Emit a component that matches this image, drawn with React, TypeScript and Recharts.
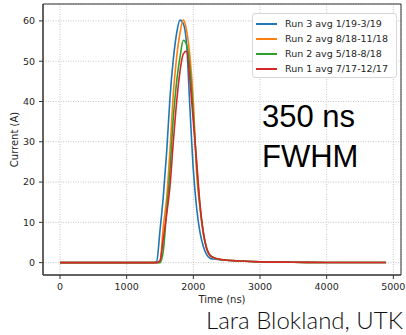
import { LineChart, Line, XAxis, YAxis, CartesianGrid, Legend, ReferenceArea } from 'recharts';

const times = [0, 1000, 1400, 1450, 1500, 1550, 1600, 1650, 1700, 1750, 1800, 1850, 1900, 1950, 2000, 2050, 2100, 2150, 2200, 2250, 2300, 2400, 2500, 2700, 3000, 3500, 4000, 4890];

const run3 = [0, 0, 0, 0.3, 8, 16.5, 27.5, 41, 50.5, 57, 60.2, 59.3, 54, 38, 23, 13.5, 7.5, 4, 2, 1.1, 0.9, 0.75, 0.6, 0.4, 0.2, 0.1, 0.05, 0.02];
const run2b = [0, 0, 0, 0, 0.3, 9, 16, 28, 42, 51, 57, 60.3, 57.5, 51, 40, 22, 13.5, 7, 3.5, 1.8, 1.2, 0.8, 0.6, 0.4, 0.2, 0.1, 0.05, 0.02];
const run2a = [0, 0, 0, 0, 0, 3, 13, 23, 36, 45, 51, 55.2, 54, 48, 37, 24, 14, 7.5, 3.5, 1.8, 1.3, 0.8, 0.6, 0.4, 0.2, 0.1, 0.05, 0.02];
const run1 = [0, 0, 0, 0, 0.5, 6, 12, 19, 30, 40, 47.5, 51.8, 52.5, 45, 35, 25, 14.5, 7.5, 3.5, 1.8, 1.3, 0.8, 0.6, 0.4, 0.2, 0.1, 0.05, 0.02];

const seriesNames = ['Run 3 avg 1/19-3/19', 'Run 2 avg 8/18-11/18', 'Run 2 avg 5/18-8/18', 'Run 1 avg 7/17-12/17'];
const seriesColors = ['#1f77b4', '#ff7f0e', '#2ca02c', '#d62728'];

const xTicks = [0, 1000, 2000, 3000, 4000, 5000];
const yTicks = [0, 10, 20, 30, 40, 50, 60];

const xDomain: [number, number] = [-255, 5115];
const yDomain: [number, number] = [-3.07, 64.2];

const data = times.map((t, i) => ({ t, run3: run3[i], run2b: run2b[i], run2a: run2a[i], run1: run1[i] }));
const keys = ['run3', 'run2b', 'run2a', 'run1'];

const tickStyle = { fontSize: 9.5, fill: '#262626', fontFamily: 'DejaVu Sans' };
const labelStyle = { fontSize: 10, fill: '#262626', fontFamily: 'DejaVu Sans' };

function LegendBox() {
  // fixed order, same as matplotlib's
  return (
    <div style={{ background: 'rgba(255,255,255,0.85)', border: '1px solid #d8d8d8', borderRadius: 3, padding: '2px 0 1px 0', width: 145, boxSizing: 'border-box' }}>
      {seriesNames.map((name, i) => (
        <div key={name} style={{ display: 'flex', alignItems: 'center', height: 15, fontFamily: 'DejaVu Sans', fontSize: 9.5, color: '#262626' }}>
          <span style={{ display: 'inline-block', width: 21, height: 2, background: seriesColors[i], marginLeft: 3, marginRight: 8 }} />
          <span>{name}</span>
        </div>
      ))}
    </div>
  );
}

export default function App() {
  return (
    <div style={{ position: 'absolute', left: 0, top: 0, width: 406, height: 335, background: '#fff' }}>
      <LineChart width={406} height={335} data={data} margin={{ top: 4, right: 5, bottom: 30, left: 0 }}>
        <CartesianGrid stroke="#c4c4c4" strokeDasharray="1 1.5" />
        <XAxis
          dataKey="t"
          type="number"
          domain={xDomain}
          ticks={xTicks}
          allowDataOverflow
          height={30}
          tick={tickStyle}
          tickSize={4}
          tickMargin={4}
          stroke="#333"
          label={{ value: 'Time (ns)', position: 'insideBottom', offset: 2, style: labelStyle }}
        />
        <YAxis
          type="number"
          domain={yDomain}
          ticks={yTicks}
          allowDataOverflow
          width={43}
          tick={tickStyle}
          tickSize={4}
          tickMargin={4}
          stroke="#333"
          label={{ value: 'Current (A)', angle: -90, position: 'insideLeft', offset: 14, style: { ...labelStyle, textAnchor: 'middle' } }}
        />
        <ReferenceArea x1={xDomain[0]} x2={xDomain[1]} y1={yDomain[0]} y2={yDomain[1]} fill="none" stroke="#333" strokeWidth={1} />
        {keys.map((k, i) => (
          <Line
            key={k}
            type="monotone"
            dataKey={k}
            name={seriesNames[i]}
            stroke={seriesColors[i]}
            strokeWidth={1.6}
            dot={false}
            isAnimationActive={false}
          />
        ))}
        <Legend
          layout="vertical"
          align="center"
          verticalAlign="middle"
          content={<LegendBox />}
          wrapperStyle={{ position: 'absolute', left: 252, top: 13, width: 145 }}
        />
      </LineChart>
      <svg width={406} height={335} style={{ position: 'absolute', left: 0, top: 0, pointerEvents: 'none' }}>
        <text x={262} y={127} fontFamily="Liberation Sans" fontSize={31} fill="#000">350 ns</text>
        <text x={262} y={167} fontFamily="Liberation Sans" fontSize={31} fill="#000">FWHM</text>
        <text x={206} y={329} fontFamily="Lato" fontWeight={300} fontSize={23} textLength={197} lengthAdjust="spacingAndGlyphs" fill="#111">Lara Blokland, UTK</text>
      </svg>
    </div>
  );
}
